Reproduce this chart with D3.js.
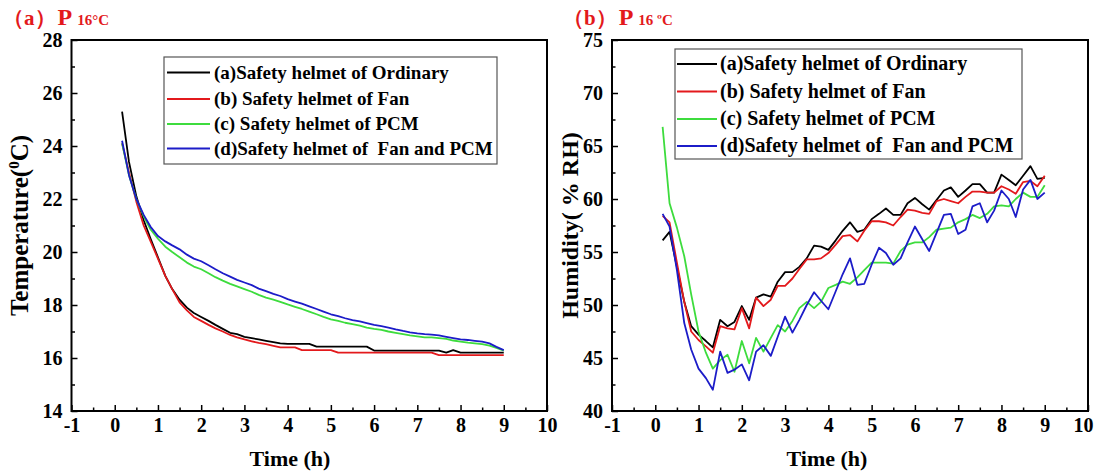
<!DOCTYPE html>
<html><head><meta charset="utf-8">
<script src="https://cdn.jsdelivr.net/npm/d3@7"></script>
<style>
html,body{margin:0;padding:0;background:#fff;}
svg text{font-family:"Liberation Serif","Times New Roman",serif;font-weight:bold;}
</style></head>
<body><svg id="c" width="1095" height="473"></svg>
<script>
// ---- data ----
const times = [0.17,0.33,0.5,0.67,0.83,1.0,1.17,1.33,1.5,1.67,1.83,2.0,2.17,2.33,2.5,2.67,2.83,3.0,3.17,3.33,3.5,3.67,3.83,4.0,4.17,4.33,4.5,4.67,4.83,5.0,5.17,5.33,5.5,5.67,5.83,6.0,6.17,6.33,6.5,6.67,6.83,7.0,7.17,7.33,7.5,7.67,7.83,8.0,8.17,8.33,8.5,8.67,8.83,9.0];

const seriesNames = ["(a)Safety helmet of Ordinary","(b) Safety helmet of Fan","(c) Safety helmet of PCM","(d)Safety helmet of  Fan and PCM"];
const seriesColors = ["#000000","#e3191c","#3ddc3d","#1c1cc8"];

const tempOrdinary = [25.3,23.4,22.1,21.2,20.5,19.8,19.1,18.6,18.2,17.9,17.7,17.55,17.4,17.25,17.1,16.95,16.9,16.8,16.75,16.7,16.65,16.6,16.55,16.53,16.53,16.53,16.53,16.43,16.43,16.43,16.43,16.43,16.43,16.43,16.43,16.28,16.28,16.28,16.28,16.28,16.28,16.28,16.28,16.28,16.28,16.2,16.3,16.2,16.2,16.2,16.2,16.2,16.2,16.2];
const tempFan = [24.1,23.0,21.9,21.0,20.4,19.75,19.1,18.6,18.1,17.8,17.55,17.4,17.25,17.12,17.0,16.87,16.78,16.7,16.63,16.57,16.52,16.46,16.4,16.4,16.4,16.3,16.3,16.3,16.3,16.3,16.2,16.2,16.2,16.2,16.2,16.2,16.2,16.2,16.2,16.2,16.2,16.2,16.2,16.2,16.11,16.11,16.11,16.11,16.11,16.11,16.11,16.11,16.11,16.11];
const tempPCM = [24.1,22.9,22.0,21.35,20.85,20.5,20.2,20.0,19.8,19.6,19.45,19.35,19.2,19.05,18.92,18.8,18.7,18.6,18.5,18.38,18.28,18.2,18.12,18.02,17.93,17.85,17.75,17.65,17.55,17.46,17.4,17.33,17.28,17.22,17.15,17.1,17.06,17.0,16.95,16.9,16.85,16.82,16.78,16.78,16.75,16.72,16.66,16.62,16.58,16.55,16.52,16.47,16.38,16.28];
const tempFanPCM = [24.2,22.9,22.0,21.4,20.95,20.6,20.4,20.25,20.1,19.9,19.75,19.65,19.5,19.35,19.2,19.07,18.95,18.85,18.75,18.62,18.52,18.42,18.34,18.22,18.13,18.05,17.95,17.85,17.75,17.65,17.58,17.5,17.43,17.38,17.32,17.25,17.2,17.15,17.08,17.02,16.97,16.93,16.9,16.88,16.85,16.8,16.75,16.7,16.68,16.65,16.62,16.55,16.42,16.3];

const humOrdinary = [56.1,56.9,53.6,50.3,48.0,47.2,46.6,46.0,48.6,48.0,48.4,49.9,48.6,50.7,51.0,50.8,52.2,53.1,53.1,53.6,54.4,55.6,55.5,55.2,56.1,57.0,57.8,56.9,57.1,58.1,58.6,59.1,58.5,58.5,59.6,60.1,59.5,59.0,59.9,60.8,61.1,60.2,60.8,61.4,61.4,60.6,60.6,62.3,61.8,61.3,62.2,63.1,61.9,62.0];
const humFan = [58.4,57.8,54.0,50.3,47.5,46.7,46.1,45.5,48.0,47.8,47.7,49.7,47.8,50.7,49.9,50.5,51.8,51.8,52.5,53.4,54.3,54.3,54.4,54.9,55.7,56.5,56.6,56.0,57.0,57.9,57.9,57.8,57.5,58.3,59.0,58.9,58.7,58.6,59.8,60.0,59.8,59.6,60.2,60.7,60.7,60.6,60.6,61.2,60.9,60.5,61.6,61.7,61.2,62.2];
const humPCM = [66.8,59.6,57.3,54.6,51.0,47.5,45.5,44.0,44.8,45.3,43.7,46.6,44.5,46.9,45.6,46.9,48.1,47.5,48.5,49.7,50.3,49.7,50.3,51.6,51.9,52.2,52.0,52.6,53.3,54.0,54.0,54.0,53.9,55.1,55.7,55.9,55.9,56.4,57.1,57.2,57.3,57.8,58.1,58.5,58.2,58.6,59.3,59.4,59.3,60.0,60.6,60.2,60.2,61.3];
const humFanPCM = [58.6,57.4,53.3,48.3,45.8,44.0,43.1,42.0,45.6,43.6,43.9,44.4,42.9,45.6,46.2,45.2,47.0,48.9,47.4,48.6,50.0,51.2,50.4,49.6,51.3,52.9,54.4,51.9,52.0,53.8,55.4,54.9,53.8,54.4,55.9,57.4,56.2,55.1,56.8,58.5,58.6,56.7,57.1,59.3,59.6,57.8,58.9,60.8,60.0,58.3,60.9,61.8,60.0,60.6];

const xTicks = [-1,0,1,2,3,4,5,6,7,8,9,10];
const xMinor = [-0.5,0.5,1.5,2.5,3.5,4.5,5.5,6.5,7.5,8.5,9.5];
const tempTicks = [14,16,18,20,22,24,26,28];
const tempMinor = [15,17,19,21,23,25,27];
const humTicks = [40,45,50,55,60,65,70,75];
const humMinor = [42.5,47.5,52.5,57.5,62.5,67.5,72.5];

// ---- drawing ----
const svg = d3.select("#c");
const fmt = d => String(d);

function panel(cfg){
  const g = svg.append("g");
  const x = d3.scaleLinear().domain([-1,10]).range([cfg.x0,cfg.x1]);
  const y = d3.scaleLinear().domain(cfg.yDom).range([cfg.y1,cfg.y0]);

  // minor ticks
  g.append("g").attr("transform",`translate(0,${cfg.y1})`)
    .call(d3.axisBottom(x).tickValues(xMinor).tickSize(-3.5).tickFormat(""))
    .call(a=>a.select(".domain").remove())
    .selectAll("line").attr("stroke","#000").attr("stroke-width",1.5);
  g.append("g").attr("transform",`translate(${cfg.x0},0)`)
    .call(d3.axisLeft(y).tickValues(cfg.yMinor).tickSize(-3.5).tickFormat(""))
    .call(a=>a.select(".domain").remove())
    .selectAll("line").attr("stroke","#000").attr("stroke-width",1.5);
  // major ticks
  const ax = g.append("g").attr("transform",`translate(0,${cfg.y1})`)
    .call(d3.axisBottom(x).tickValues(xTicks).tickSize(-6).tickPadding(7).tickFormat(fmt));
  ax.select(".domain").remove();
  ax.selectAll("line").attr("stroke","#000").attr("stroke-width",1.5);
  ax.selectAll("text").attr("font-size",20).attr("fill","#000")
    .style("font-family","'Liberation Serif',serif").style("font-weight","bold")
    .attr("dx", d => (d===10 ? cfg.lastDx : 0));
  const ay = g.append("g").attr("transform",`translate(${cfg.x0},0)`)
    .call(d3.axisLeft(y).tickValues(cfg.yTicks).tickSize(-6).tickPadding(9).tickFormat(fmt));
  ay.select(".domain").remove();
  ay.selectAll("line").attr("stroke","#000").attr("stroke-width",1.5);
  ay.selectAll("text").attr("font-size",20).attr("fill","#000")
    .style("font-family","'Liberation Serif',serif").style("font-weight","bold");

  // data lines
  const line = d3.line().x((d,i)=>x(times[i])).y(d=>y(d));
  cfg.series.forEach((s,i)=>{
    g.append("path").datum(s).attr("d",line).attr("fill","none")
      .attr("stroke",seriesColors[i]).attr("stroke-width",1.8).attr("stroke-linejoin","round");
  });

  // frame
  g.append("rect").attr("x",cfg.x0).attr("y",cfg.y0)
    .attr("width",cfg.x1-cfg.x0).attr("height",cfg.y1-cfg.y0)
    .attr("fill","none").attr("stroke","#000").attr("stroke-width",2);

  // legend
  const L = cfg.legend;
  g.append("rect").attr("x",L.bx0).attr("y",L.by0).attr("width",L.bx1-L.bx0).attr("height",L.by1-L.by0)
    .attr("fill","#fff").attr("stroke","#555").attr("stroke-width",1.2);
  seriesNames.forEach((n,i)=>{
    const yy = L.rowY[i];
    g.append("line").attr("x1",L.lx0).attr("x2",L.lx1).attr("y1",yy).attr("y2",yy)
      .attr("stroke",seriesColors[i]).attr("stroke-width",1.8);
    g.append("text").attr("x",L.tx).attr("y",yy+6).attr("font-size",L.fs)
      .style("white-space","pre").text(n);
  });

  // x axis title
  g.append("text").attr("x",cfg.xTitleX).attr("y",466).attr("text-anchor","middle")
    .attr("font-size",22).text("Time (h)");

  // y axis title
  const yt = g.append("text").attr("transform",`translate(${cfg.yTitleX},${(cfg.y0+cfg.y1)/2}) rotate(-90)`)
    .attr("text-anchor","middle").attr("font-size",cfg.yTitleFs);
  cfg.yTitle(yt);

  // panel title
  const t = g.append("text").attr("x",cfg.titleX).attr("y",25).attr("fill","#e3191c");
  t.append("tspan").attr("font-size",21).text(cfg.tag);
  t.append("tspan").attr("font-size",24).attr("dx",2).text("P");
  t.append("tspan").attr("font-size",15).attr("dx",5).text(cfg.deg);
}

panel({
  x0:71.5, x1:547, y0:40, y1:411, yDom:[14,28],
  yTicks:tempTicks, yMinor:tempMinor, lastDx:0,
  series:[tempOrdinary,tempFan,tempPCM,tempFanPCM],
  legend:{bx0:164,bx1:497,by0:57,by1:164,lx0:167,lx1:210,tx:214,fs:19,rowY:[72.5,99,124,148.5]},
  xTitleX:290, yTitleX:28, yTitleFs:25,
  yTitle:t=>{t.append("tspan").text("Temperature(");
    t.append("tspan").attr("font-size",15).attr("dy",-9).text("0");
    t.append("tspan").attr("dy",9).text("C)");},
  titleX:3, tag:"（a）", deg:"16°C"
});
panel({
  x0:612, x1:1088, y0:40, y1:411, yDom:[40,75],
  yTicks:humTicks, yMinor:humMinor, lastDx:-5,
  series:[humOrdinary,humFan,humPCM,humFanPCM],
  legend:{bx0:675,bx1:1022,by0:49,by1:159,lx0:677,lx1:717,tx:720,fs:20,rowY:[64,91.5,119,146]},
  xTitleX:827, yTitleX:578, yTitleFs:24,
  yTitle:t=>{t.text("Humidity( % RH)").style("white-space","pre");},
  titleX:563, tag:"（b）", deg:"16 ºC"
});
</script></body></html>
